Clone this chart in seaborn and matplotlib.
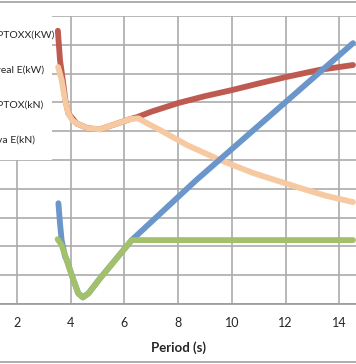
import matplotlib
matplotlib.use('Agg')
import matplotlib.pyplot as plt
from matplotlib.lines import Line2D
from matplotlib.patches import Rectangle
import seaborn as sns

# values (x = period in s, y in grid units 0..10)
red_x = [3.52, 3.6, 3.72, 3.8, 3.91, 4.22, 4.65, 5.1, 5.7, 6.2, 6.47, 7.0, 8.0, 9.0, 10.0, 11.0, 12.0, 13.25, 14.51]
red_y = [9.49, 8.47, 7.66, 7.08, 6.62, 6.27, 6.1, 6.07, 6.26, 6.42, 6.49, 6.68, 6.98, 7.22, 7.43, 7.66, 7.88, 8.13, 8.3]

beige_x = [3.53, 3.66, 3.79, 3.91, 4.05, 4.22, 4.65, 5.1, 5.7, 6.2, 6.51, 6.8, 7.33, 8.33, 9.56, 10.79, 12.54, 13.5, 14.51]
beige_y = [8.23, 7.78, 7.08, 6.62, 6.39, 6.27, 6.1, 6.07, 6.26, 6.42, 6.45, 6.3, 6.04, 5.52, 5.0, 4.55, 4.03, 3.76, 3.54]

blue_x = [3.54, 3.6, 3.66, 3.79, 3.85, 4.1, 4.28, 4.45, 4.66, 5.09, 5.71, 6.27, 8.67, 12.02, 14.51]
blue_y = [3.5, 2.8, 2.22, 1.64, 1.53, 0.83, 0.37, 0.23, 0.37, 0.89, 1.59, 2.22, 4.3, 7.03, 9.06]

green_x = [3.51, 3.66, 3.85, 4.1, 4.28, 4.45, 4.66, 5.09, 5.71, 6.27, 10.0, 14.51]
green_y = [2.25, 2.05, 1.53, 0.83, 0.37, 0.23, 0.37, 0.89, 1.59, 2.22, 2.22, 2.22]

labels = ['PTOXX(KW)', 'real E(kW)', 'PTOX(kN)', 'va E(kN)']
x_ticks = [2, 4, 6, 8, 10, 12, 14]

sns.set_style('white')
plt.rcParams['font.family'] = ['Lato', 'DejaVu Sans']

fig = plt.figure(figsize=(3.56, 3.64), dpi=100)
ax = fig.add_axes([-0.103, 0.1648, 1.207, 0.791])

series = [(red_x, red_y, '#BE5A50'), (beige_x, beige_y, '#F7C9A0'),
          (blue_x, blue_y, '#6A96CA'), (green_x, green_y, '#A3C06A')]
for (sx, sy, col), lab in zip(series, labels):
    sns.lineplot(x=sx, y=sy, color=col, linewidth=4.2, sort=False, ax=ax, label=lab,
                 solid_capstyle='round', solid_joinstyle='round')

ax.set_xlim(0, 16)
ax.set_ylim(0, 10)
ax.set_xticks(x_ticks)
ax.set_yticks(range(0, 11))
ax.set_yticklabels([])
ax.grid(True, color='#ababab', linewidth=1.2)
ax.set_axisbelow(True)
for s in ['top', 'right', 'left']:
    ax.spines[s].set_visible(False)
ax.spines['bottom'].set_color('#9a9a9a')
ax.spines['bottom'].set_linewidth(1.2)
ax.tick_params(axis='x', length=3.5, width=1.2, color='#9a9a9a', pad=6, labelsize=9)
ax.tick_params(axis='y', length=0)
ax.set_xlabel('Period (s)', fontsize=9.5, fontweight='bold', labelpad=9)
ax.set_ylabel('')

# white legend area over the grid
ax.add_patch(Rectangle((-0.01, 0.56), 0.156, 0.395, transform=fig.transFigure,
                       facecolor='white', edgecolor='none', zorder=1))
ax.legend(loc='upper left', bbox_to_anchor=(-0.087, 0.918), bbox_transform=fig.transFigure,
          borderaxespad=0, borderpad=0, labelspacing=2.47,
          prop={'family': ['Liberation Sans Narrow', 'Lato'], 'size': 7.5},
          handlelength=1.9, handletextpad=0.8, frameon=False)

# chart area border
fig.add_artist(Line2D([0, 1], [0.9945, 0.9945], transform=fig.transFigure, color='#a0a0a0', linewidth=1.2))
fig.add_artist(Line2D([0, 1], [0.0055, 0.0055], transform=fig.transFigure, color='#a0a0a0', linewidth=1.2))

fig.savefig('out.png', dpi=100)
